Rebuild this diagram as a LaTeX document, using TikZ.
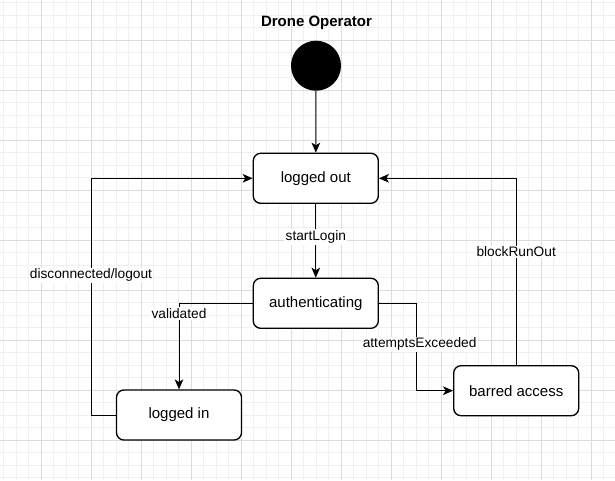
\documentclass[tikz,border=0pt]{standalone}
\usepackage{fontspec}
\setmainfont{Liberation Sans}
\usetikzlibrary{arrows.meta}
\definecolor{gridmajor}{HTML}{DCDCDC}
\definecolor{gridminor}{HTML}{F0F0F0}
\begin{document}
\begin{tikzpicture}[x=0.75pt,y=-0.75pt,
  state/.style={draw=black, line width=1pt, rounded corners=5.5pt, fill=white,
    minimum width=93.75pt, minimum height=37.5pt, inner sep=0pt,
    font=\fontsize{11.25}{13}\selectfont},
  lbl/.style={fill=white, inner sep=1pt, font=\fontsize{10.3}{12}\selectfont},
  conn/.style={draw=black, line width=0.75pt,
    -{Stealth[length=7.5pt,width=6.5pt,inset=2pt]}},
  initstate/.style={circle, fill=black, minimum size=37.5pt, inner sep=0pt},
  titlestyle/.style={font=\bfseries\fontsize{11.25}{13}\selectfont, anchor=base}]
\useasboundingbox (0,0) rectangle (615,480);
\fill[white] (0,0) rectangle (615,480);
% grid
\foreach \k in {-3,...,45}
  \draw[gridminor, line width=0.75pt] ({41.3+12.5*\k},0) -- ({41.3+12.5*\k},480);
\foreach \k in {-3,...,35}
  \draw[gridminor, line width=0.75pt] (0,{40.3+12.5*\k}) -- (615,{40.3+12.5*\k});
\foreach \k in {0,...,11}
  \draw[gridmajor, line width=0.75pt] ({41.3+50*\k},0) -- ({41.3+50*\k},480);
\foreach \k in {0,...,8}
  \draw[gridmajor, line width=0.75pt] (0,{40.3+50*\k}) -- (615,{40.3+50*\k});
% nodes
\node[titlestyle] (title) at (316.5,26) {Drone Operator};
\node[initstate] (init) at (316,65.7) {};
\node[state] (out) at (315.8,178.3) {logged out};
\node[state] (auth) at (315.8,303.3) {authenticating};
\node[state] (in) at (179,415) {logged in};
\node[state] (barred) at (516.2,390.7) {barred access};
\coordinate (lbend) at (91,415);
\coordinate (rbend) at (416.3,303.3);
% connectors
\draw[conn] (init) -- (out);
\draw[conn] (out) -- node[lbl, pos=0.45] {startLogin} (auth);
\draw[conn] (auth.west) -| node[lbl, pos=0.56] {validated} (in.north);
\draw[conn] (in.west) -- (lbend) |- node[lbl, pos=0.295] {disconnected/logout} (out.west);
\draw[conn] (auth.east) -- (rbend) |- node[lbl, pos=0.235, xshift=2.5pt] {attemptsExceeded} (barred.west);
\draw[conn] (barred.north) |- node[lbl, pos=0.303] {blockRunOut} (out.east);
\end{tikzpicture}
\end{document}
